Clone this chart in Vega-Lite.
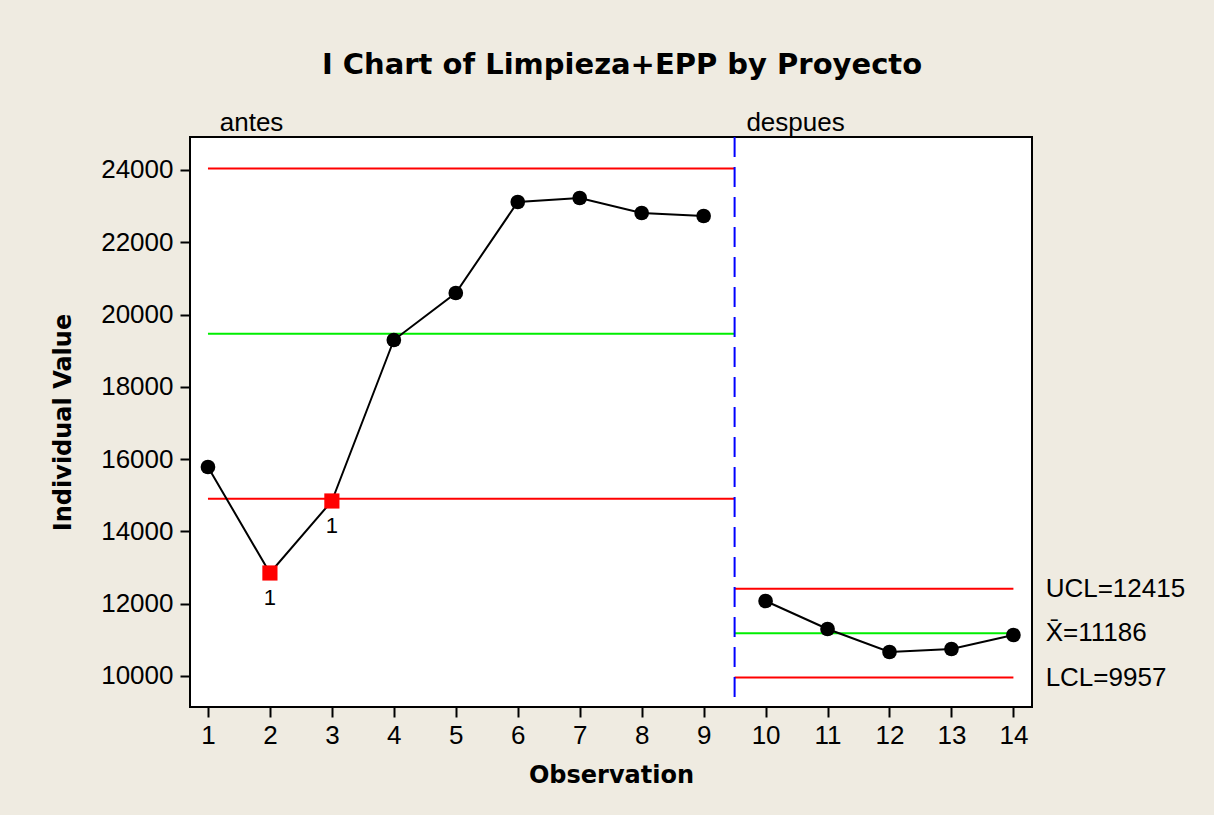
{
  "$schema": "https://vega.github.io/schema/vega-lite/v6.json",
  "width": 842,
  "height": 570,
  "autosize": {"type": "none"},
  "padding": {"left": 190, "top": 137, "right": 182, "bottom": 108},
  "background": "#EFEBE1",
  "config": {
    "view": {"fill": "white", "stroke": "black", "strokeWidth": 2},
    "axis": {
      "grid": false,
      "domain": false,
      "tickColor": "black",
      "tickWidth": 2,
      "tickSize": 10,
      "labelFont": "Liberation Sans",
      "labelFontSize": 26,
      "labelColor": "black",
      "titleFont": "DejaVu Sans",
      "titleFontWeight": "bold",
      "titleFontSize": 24,
      "titleColor": "black"
    }
  },
  "title": {
    "text": "I Chart of Limpieza+EPP by Proyecto",
    "font": "DejaVu Sans",
    "fontSize": 29,
    "fontWeight": "bold",
    "color": "black",
    "anchor": "middle",
    "baseline": "alphabetic",
    "offset": 7,
    "dx": 11
  },
  "datasets": {
    "points": [
      {"obs": 1, "value": 15782, "phase": "antes", "flag": "ok"},
      {"obs": 2, "value": 12850, "phase": "antes", "flag": "out"},
      {"obs": 3, "value": 14842, "phase": "antes", "flag": "out"},
      {"obs": 4, "value": 19296, "phase": "antes", "flag": "ok"},
      {"obs": 5, "value": 20597, "phase": "antes", "flag": "ok"},
      {"obs": 6, "value": 23115, "phase": "antes", "flag": "ok"},
      {"obs": 7, "value": 23225, "phase": "antes", "flag": "ok"},
      {"obs": 8, "value": 22810, "phase": "antes", "flag": "ok"},
      {"obs": 9, "value": 22727, "phase": "antes", "flag": "ok"},
      {"obs": 10, "value": 12075, "phase": "despues", "flag": "ok"},
      {"obs": 11, "value": 11300, "phase": "despues", "flag": "ok"},
      {"obs": 12, "value": 10664, "phase": "despues", "flag": "ok"},
      {"obs": 13, "value": 10747, "phase": "despues", "flag": "ok"},
      {"obs": 14, "value": 11134, "phase": "despues", "flag": "ok"}
    ],
    "limits": [
      {"phase": "antes", "kind": "UCL", "obs": 1, "obs2": 9.5, "value": 24040},
      {"phase": "antes", "kind": "CL", "obs": 1, "obs2": 9.5, "value": 19472},
      {"phase": "antes", "kind": "LCL", "obs": 1, "obs2": 9.5, "value": 14904},
      {"phase": "despues", "kind": "UCL", "obs": 9.5, "obs2": 14, "value": 12415},
      {"phase": "despues", "kind": "CL", "obs": 9.5, "obs2": 14, "value": 11186},
      {"phase": "despues", "kind": "LCL", "obs": 9.5, "obs2": 14, "value": 9957}
    ],
    "divider": [{"obs": 9.5}],
    "limitLabels": [
      {"label": "UCL=12415", "obs": 14.52, "value": 12415},
      {"label": "X̄=11186", "obs": 14.52, "value": 11186},
      {"label": "LCL=9957", "obs": 14.52, "value": 9957}
    ],
    "phaseLabels": [
      {"label": "antes", "obs": 1.19, "value": 25300},
      {"label": "despues", "obs": 9.69, "value": 25300}
    ]
  },
  "layer": [
    {
      "data": {"name": "limits"},
      "mark": {"type": "rule", "strokeWidth": 2},
      "encoding": {
        "x": {
          "field": "obs",
          "type": "quantitative",
          "scale": {"domain": [0.71, 14.3], "nice": false, "zero": false},
          "axis": {"title": "Observation", "values": [1,2,3,4,5,6,7,8,9,10,11,12,13,14], "format": "d", "labelPadding": 5, "titlePadding": 15}
        },
        "x2": {"field": "obs2"},
        "y": {
          "field": "value",
          "type": "quantitative",
          "scale": {"domain": [9142, 24913], "nice": false, "zero": false},
          "axis": {"title": "Individual Value", "values": [10000,12000,14000,16000,18000,20000,22000,24000], "format": "d", "labelPadding": 7, "titlePadding": 25}
        },
        "color": {
          "field": "kind",
          "type": "nominal",
          "scale": {"domain": ["UCL", "CL", "LCL"], "range": ["#ff0000", "#00ee00", "#ff0000"]},
          "legend": null
        }
      }
    },
    {
      "data": {"name": "divider"},
      "mark": {"type": "rule", "color": "#0000ff", "strokeWidth": 2, "strokeDash": [20, 10]},
      "encoding": {
        "x": {"field": "obs", "type": "quantitative"}
      }
    },
    {
      "data": {"name": "points"},
      "mark": {"type": "line", "color": "black", "strokeWidth": 2},
      "encoding": {
        "x": {"field": "obs", "type": "quantitative"},
        "y": {"field": "value", "type": "quantitative"},
        "detail": {"field": "phase"}
      }
    },
    {
      "data": {"name": "points"},
      "transform": [{"filter": "datum.flag === 'ok'"}],
      "mark": {"type": "point", "shape": "circle", "filled": true, "color": "black", "size": 215, "opacity": 1},
      "encoding": {
        "x": {"field": "obs", "type": "quantitative"},
        "y": {"field": "value", "type": "quantitative"}
      }
    },
    {
      "data": {"name": "points"},
      "transform": [{"filter": "datum.flag === 'out'"}],
      "mark": {"type": "point", "shape": "square", "filled": true, "color": "#ff0000", "size": 230, "opacity": 1},
      "encoding": {
        "x": {"field": "obs", "type": "quantitative"},
        "y": {"field": "value", "type": "quantitative"}
      }
    },
    {
      "data": {"name": "points"},
      "transform": [{"filter": "datum.flag === 'out'"}],
      "mark": {"type": "text", "font": "Liberation Sans", "fontSize": 22, "color": "black", "baseline": "middle", "dy": 25},
      "encoding": {
        "x": {"field": "obs", "type": "quantitative"},
        "y": {"field": "value", "type": "quantitative"},
        "text": {"value": "1"}
      }
    },
    {
      "data": {"name": "limitLabels"},
      "mark": {"type": "text", "font": "Liberation Sans", "fontSize": 26, "color": "black", "align": "left", "baseline": "middle"},
      "encoding": {
        "x": {"field": "obs", "type": "quantitative"},
        "y": {"field": "value", "type": "quantitative"},
        "text": {"field": "label"}
      }
    },
    {
      "data": {"name": "phaseLabels"},
      "mark": {"type": "text", "font": "Liberation Sans", "fontSize": 26, "color": "black", "align": "left", "baseline": "middle"},
      "encoding": {
        "x": {"field": "obs", "type": "quantitative"},
        "y": {"field": "value", "type": "quantitative"},
        "text": {"field": "label"}
      }
    }
  ]
}
